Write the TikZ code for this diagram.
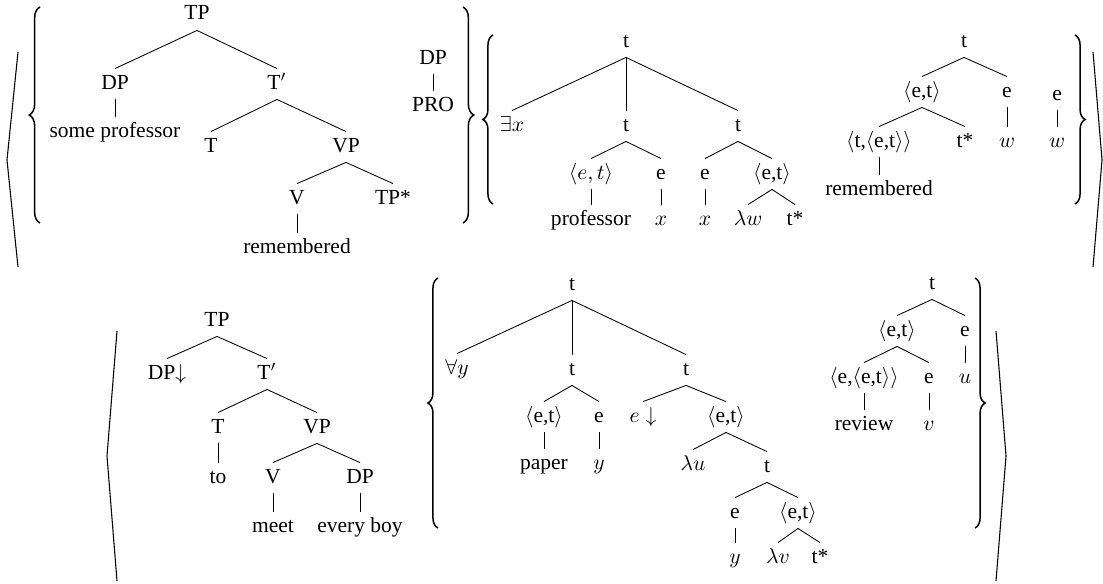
\documentclass[tikz,border=0pt]{standalone}
\usepackage{fontspec}
\setmainfont{Liberation Serif}
\usetikzlibrary{decorations.pathreplacing}
\newcommand{\tp}[1]{$\langle$#1$\rangle$}
\begin{document}
\begin{tikzpicture}[x=0.465pt, y=-0.465pt,
    lbl/.style={anchor=base, inner sep=2pt, text height=7.3pt, text depth=2.65pt},
    edge/.style={line width=0.4pt},
    ang/.style={line width=0.5pt},
    lbrc/.style={line width=0.7pt, decorate, decoration={brace, amplitude=#1}},
    lbrc/.default=5pt]
  \useasboundingbox (0,0) rectangle (1103,583);

  %% top row: syntax tree
  \node[lbl] (A-TP)   at (197,20)  {TP};
  \node[lbl] (A-DP)   at (115,89)  {DP};
  \node[lbl] (A-Tb)   at (277,89)  {T$'$};
  \node[lbl] (A-prof) at (115,137) {some professor};
  \node[lbl] (A-T)    at (211,152) {T};
  \node[lbl] (A-VP)   at (346,152) {VP};
  \node[lbl] (A-V)    at (297,204) {V};
  \node[lbl] (A-TPs)  at (393,204) {TP*};
  \node[lbl] (A-rem)  at (297,253) {remembered};
  \node[lbl] (P-DP)   at (433,64)  {DP};
  \node[lbl] (P-PRO)  at (433,111) {PRO};

  %% top row: semantic trees
  \node[lbl] (B-t)    at (626,47)  {t};
  \node[lbl] (B-ex)   at (512,131) {$\exists x$};
  \node[lbl] (B-t1)   at (626,131) {t};
  \node[lbl] (B-t2)   at (738,131) {t};
  \node[lbl] (B-et1)  at (591,179) {$\langle e,t\rangle$};
  \node[lbl] (B-e1)   at (661,179) {e};
  \node[lbl] (B-e2)   at (705,179) {e};
  \node[lbl] (B-et2)  at (772,179) {\tp{e,t}};
  \node[lbl] (B-prof) at (591,225) {professor};
  \node[lbl] (B-x1)   at (661,225) {$x$};
  \node[lbl] (B-x2)   at (705,225) {$x$};
  \node[lbl] (B-lw)   at (748,225) {$\lambda w$};
  \node[lbl] (B-ts)   at (795,225) {t*};

  \node[lbl] (C-t)    at (964,47)  {t};
  \node[lbl] (C-et)   at (922,97)  {\tp{e,t}};
  \node[lbl] (C-e)    at (1007,97) {e};
  \node[lbl] (C-tet)  at (879,147) {\tp{t,\tp{e,t}}};
  \node[lbl] (C-ts)   at (965,147) {t*};
  \node[lbl] (C-w)    at (1007,147) {$w$};
  \node[lbl] (C-rem)  at (879,195) {remembered};
  \node[lbl] (S-e)    at (1057,100) {e};
  \node[lbl] (S-w)    at (1057,147) {$w$};

  %% bottom row: syntax tree
  \node[lbl] (D-TP)   at (217,326) {TP};
  \node[lbl] (D-DP)   at (167,379) {DP$\downarrow$};
  \node[lbl] (D-Tb)   at (267,379) {T$'$};
  \node[lbl] (D-T)    at (218,433) {T};
  \node[lbl] (D-VP)   at (317,433) {VP};
  \node[lbl] (D-to)   at (218,483) {to};
  \node[lbl] (D-V)    at (273,483) {V};
  \node[lbl] (D-DP2)  at (360,483) {DP};
  \node[lbl] (D-meet) at (273,532) {meet};
  \node[lbl] (D-boy)  at (360,532) {every boy};

  %% bottom row: semantic trees
  \node[lbl] (E-t)    at (572,290) {t};
  \node[lbl] (E-all)  at (457,374) {$\forall y$};
  \node[lbl] (E-t1)   at (572,375) {t};
  \node[lbl] (E-t2)   at (686,375) {t};
  \node[lbl] (E-et1)  at (544,422) {\tp{e,t}};
  \node[lbl] (E-e1)   at (599,422) {e};
  \node[lbl] (E-ed)   at (643,422) {$e\downarrow$};
  \node[lbl] (E-et2)  at (726,422) {\tp{e,t}};
  \node[lbl] (E-pap)  at (544,469) {paper};
  \node[lbl] (E-y1)   at (599,469) {$y$};
  \node[lbl] (E-lu)   at (693,470) {$\lambda u$};
  \node[lbl] (E-t3)   at (767,472) {t};
  \node[lbl] (E-e2)   at (735,518) {e};
  \node[lbl] (E-et3)  at (798,518) {\tp{e,t}};
  \node[lbl] (E-y2)   at (735,563) {$y$};
  \node[lbl] (E-lv)   at (778,563) {$\lambda v$};
  \node[lbl] (E-ts)   at (820,563) {t*};

  \node[lbl] (F-t)    at (932,289) {t};
  \node[lbl] (F-et)   at (897,336) {\tp{e,t}};
  \node[lbl] (F-e1)   at (965,336) {e};
  \node[lbl] (F-eet)  at (864,383) {\tp{e,\tp{e,t}}};
  \node[lbl] (F-e2)   at (929,383) {e};
  \node[lbl] (F-u)    at (965,383) {$u$};
  \node[lbl] (F-rev)  at (864,430) {review};
  \node[lbl] (F-v)    at (929,430) {$v$};

  %% branches
  \foreach \p/\c in {A-TP/A-DP, A-TP/A-Tb, A-DP/A-prof, A-Tb/A-T, A-Tb/A-VP,
      A-VP/A-V, A-VP/A-TPs, A-V/A-rem, P-DP/P-PRO,
      B-t/B-ex, B-t/B-t1, B-t/B-t2, B-t1/B-et1, B-t1/B-e1, B-t2/B-e2, B-t2/B-et2,
      B-et1/B-prof, B-e1/B-x1, B-e2/B-x2, B-et2/B-lw, B-et2/B-ts,
      C-t/C-et, C-t/C-e, C-et/C-tet, C-et/C-ts, C-e/C-w, C-tet/C-rem, S-e/S-w,
      D-TP/D-DP, D-TP/D-Tb, D-Tb/D-T, D-Tb/D-VP, D-T/D-to, D-VP/D-V, D-VP/D-DP2,
      D-V/D-meet, D-DP2/D-boy,
      E-t/E-all, E-t/E-t1, E-t/E-t2, E-t1/E-et1, E-t1/E-e1, E-t2/E-ed, E-t2/E-et2,
      E-et1/E-pap, E-e1/E-y1, E-et2/E-lu, E-et2/E-t3, E-t3/E-e2, E-t3/E-et3,
      E-e2/E-y2, E-et3/E-lv, E-et3/E-ts,
      F-t/F-et, F-t/F-e1, F-et/F-eet, F-et/F-e2, F-e1/F-u, F-eet/F-rev, F-e2/F-v}
    \draw[edge] (\p.south) -- (\c.north);

  %% braces
  \draw[lbrc] (40,223) -- (40,7);
  \draw[lbrc] (463,7) -- (463,223);
  \draw[lbrc=4.7pt] (493,204) -- (493,35);
  \draw[lbrc=4.7pt] (1075,35) -- (1075,204);
  \draw[lbrc=4.7pt] (438,528) -- (438,278);
  \draw[lbrc=4.7pt] (975,278) -- (975,528);

  %% angle brackets
  \draw[ang] (18,52) -- (7,160) -- (18,267);
  \draw[ang] (1093,52) -- (1102,160) -- (1093,267);
  \draw[ang] (117,331) -- (107,456) -- (117,581);
  \draw[ang] (996,331) -- (1006,456) -- (996,581);
\end{tikzpicture}
\end{document}
